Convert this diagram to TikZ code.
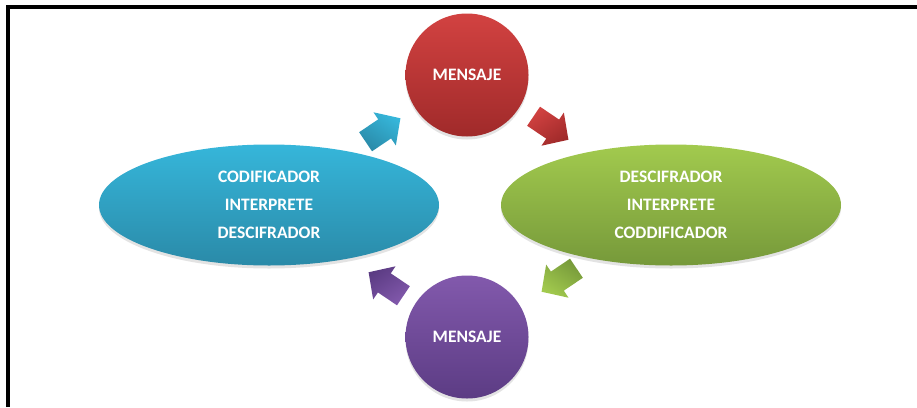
\documentclass[tikz,border=0pt]{standalone}
\usepackage{fontspec}
\setmainfont{Carlito}
\usetikzlibrary{shapes.geometric,shadows}
\definecolor{redT}{HTML}{D24241}\definecolor{redB}{HTML}{A02A2A}
\definecolor{bluT}{HTML}{36B6DA}\definecolor{bluB}{HTML}{2A8AA8}
\definecolor{grnT}{HTML}{A2CA4E}\definecolor{grnB}{HTML}{76993A}
\definecolor{purT}{HTML}{8259AC}\definecolor{purB}{HTML}{5C3C84}
\tikzset{
  shape shadow/.style={drop shadow={opacity=0.22, shadow xshift=0pt, shadow yshift=-3pt}},
  circ/.style={circle, inner sep=0pt, minimum size=123pt, shape shadow,
    text=white, font=\bfseries\fontsize{17.5}{28}\selectfont},
  ell/.style={ellipse, inner sep=0pt, minimum width=340pt, minimum height=121pt, shape shadow,
    text=white, align=center, font=\bfseries\fontsize{17.5}{28}\selectfont},
  blockarrow/.pic={
    \path[pic actions] (-21,-11.5) -- (2,-11.5) -- (2,-20) -- (21,0) -- (2,20) -- (2,11.5) -- (-21,11.5) -- cycle;
  }
}
\begin{document}
\begin{tikzpicture}[x=1pt,y=-1pt]
\useasboundingbox (0,0) rectangle (917,407);
\fill[white] (0,0) rectangle (917,407);
% frame
\draw[line width=4pt] (8,407) -- (8,7) -- (917,7);
% shapes
\node[circ, top color=redT, bottom color=redB] (msg1) at (467,75) {MENSAJE};
\node[ell, top color=bluT, bottom color=bluB] (cod) at (269,205) {CODIFICADOR\\INTERPRETE\\DESCIFRADOR};
\node[ell, top color=grnT, bottom color=grnB] (desc) at (671,205) {DESCIFRADOR\\INTERPRETE\\CODDIFICADOR};
\node[circ, top color=purT, bottom color=purB] (msg2) at (467,337) {MENSAJE};
% block arrows
\coordinate (a1) at (383,130);
\coordinate (a2) at (551,128);
\coordinate (a3) at (559,280);
\coordinate (a4) at (386,284);
\pic[shape shadow, top color=bluT, bottom color=bluB, shading angle=-34, shift={(a1)}, rotate=34] {blockarrow};
\pic[shape shadow, top color=redT, bottom color=redB, shading angle=34, shift={(a2)}, rotate=-34] {blockarrow};
\pic[shape shadow, top color=grnT, bottom color=grnB, shading angle=146, shift={(a3)}, rotate=-146] {blockarrow};
\pic[shape shadow, top color=purT, bottom color=purB, shading angle=-146, shift={(a4)}, rotate=146] {blockarrow};
\end{tikzpicture}
\end{document}
